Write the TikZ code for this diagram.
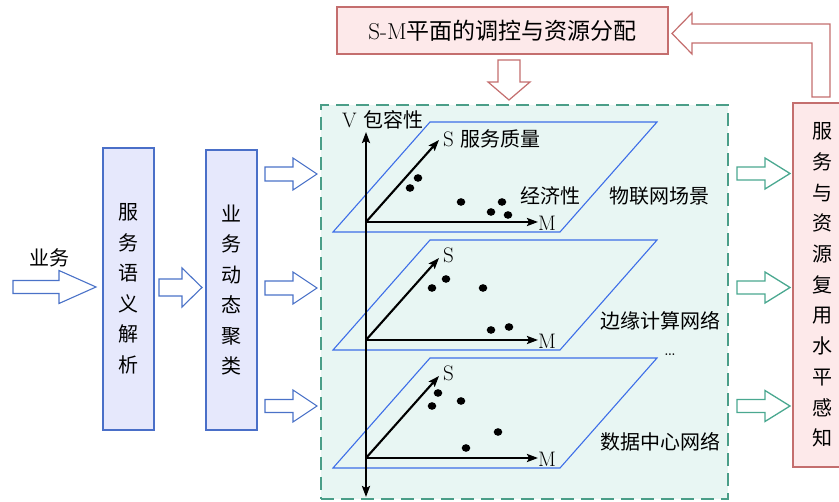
\documentclass[tikz,border=0pt]{standalone}
\usepackage{fontspec}
\newfontfamily\cjk{Noto Sans CJK SC}
\usetikzlibrary{arrows.meta}
\definecolor{boxfill}{HTML}{E6E8FC}
\definecolor{boxblue}{HTML}{4A6FC8}
\definecolor{arrblue}{HTML}{4A72C8}
\definecolor{tealfill}{HTML}{E8F6F3}
\definecolor{tealline}{HTML}{4A9E88}
\definecolor{arrteal}{HTML}{4AA890}
\definecolor{pinkfill}{HTML}{FDE9EA}
\definecolor{pinkline}{HTML}{C46E6E}
\definecolor{planeblue}{HTML}{3D6EE8}
% horizontal block arrow: style, x0, x head base, x tip, y centre, half shaft, half head
\newcommand{\hbarrow}[7]{\draw[#1] (#2,#5-#6) -- (#3,#5-#6) -- (#3,#5-#7) -- (#4,#5) -- (#3,#5+#7) -- (#3,#5+#6) -- (#2,#5+#6) -- cycle;}
\begin{document}
\begin{tikzpicture}[x=1pt,y=-1pt,
  vbox/.style={draw=boxblue, fill=boxfill, line width=1.2pt, inner sep=0pt, align=center,
    font=\cjk\fontsize{20}{30.5}\selectfont},
  pinkbox/.style={draw=pinkline, fill=pinkfill, line width=1.2pt, inner sep=0pt, align=center},
  tealbox/.style={draw=tealline, fill=tealfill, line width=1.4pt, dash pattern=on 13pt off 7pt, inner sep=0pt},
  barrow/.style={draw=arrblue, fill=white, line width=1.1pt},
  tarrow/.style={draw=arrteal, fill=white, line width=1.3pt},
  parrow/.style={draw=pinkline, fill=white, line width=1.2pt},
  plane/.style={draw=planeblue, line width=1.1pt},
  axis/.style={line width=2.1pt, -{Stealth[length=11pt,width=8pt,inset=2pt]}},
  dotm/.style={fill=black},
  lbl/.style={font=\fontsize{21}{24}\selectfont, inner sep=0pt},
  clbl/.style={font=\cjk\fontsize{20}{24}\selectfont, inner sep=0pt}]
\clip (0,0) rectangle (839,502);

% boxes
\node[vbox, minimum width=51, minimum height=282] (parse) at (128.5,289) {服\\务\\语\\义\\解\\析};
\node[vbox, minimum width=51, minimum height=280] (clus) at (231.5,290) {业\\务\\动\\态\\聚\\类};
\node[pinkbox, minimum width=331, minimum height=47, font=\fontsize{23}{27}\selectfont] (ctrl) at (502.5,30.5) {S-M{\cjk 平面的调控与资源分配}};
\node[pinkbox, minimum width=58, minimum height=364, font=\cjk\fontsize{20}{30.7}\selectfont] (perc) at (822,285) {服\\务\\与\\资\\源\\复\\用\\水\\平\\感\\知};
\node[tealbox, minimum width=407, minimum height=394] (scene) at (524.5,302) {};

\node[clbl] (inlbl) at (49,258) {业务};

% blue block arrows
\hbarrow{barrow}{13}{59}{96}{287}{6.5}{16.5}
\hbarrow{barrow}{159}{182}{202}{287.5}{8.5}{19.5}
\hbarrow{barrow}{265}{293}{317}{174}{7}{16}
\hbarrow{barrow}{265}{293}{317}{288}{7}{16}
\hbarrow{barrow}{265}{293}{317}{406}{6.5}{16}

% teal block arrows
\hbarrow{tarrow}{737}{765}{790}{173.5}{6.5}{15.5}
\hbarrow{tarrow}{737}{765}{790}{287.5}{6.5}{15.5}
\hbarrow{tarrow}{737}{765}{790}{406}{6.5}{15.5}

% down arrow from control box
\draw[parrow] (498,60) -- (520,60) -- (520,82) -- (530,82) -- (509,100) -- (488,82) -- (498,82) -- cycle;
% return arrow from perception box
\draw[parrow] (812,97) -- (830,97) -- (830,24) -- (692,24) -- (692,13) -- (672,33.5) -- (692,54) -- (692,43) -- (812,43) -- cycle;

% planes
\foreach \b in {232,350,468}{
  \draw[plane] (333,\b) -- (560,\b) -- (657,\b-110) -- (430,\b-110) -- cycle;
}

% axes
\coordinate (o1) at (366,222);
\coordinate (o2) at (366,340);
\coordinate (o3) at (366,458);
\coordinate (vtop) at (366,132);
\coordinate (vbot) at (366,497);
\draw[axis] (o1) -- (vtop);
\draw[axis] (o1) -- (vbot);
\foreach \o in {o1,o2,o3}{
  \draw[axis] (\o) -- ++(172,0);
  \draw[axis] (\o) -- ++(73,-82);
}

% labels
\node[lbl, anchor=west] (vl) at (342,120) {V {\cjk\fontsize{20}{24}\selectfont 包容性}};
\node[lbl, anchor=west] (s1) at (443,139) {S {\cjk\fontsize{20}{24}\selectfont 服务质量}};
\node[lbl, anchor=west] (s2) at (443,255) {S};
\node[lbl, anchor=west] (s3) at (443,373) {S};
\node[lbl, anchor=west] (m1) at (538,223) {M};
\node[lbl, anchor=west] (m2) at (538,341) {M};
\node[lbl, anchor=west] (m3) at (538,459) {M};
\node[clbl] (econ) at (550,196) {经济性};
\node[clbl] (iot) at (659,196) {物联网场景};
\node[clbl] (edge) at (660,321) {边缘计算网络};
\node[lbl] (dots) at (670,355) {\dots};
\node[clbl] (dc) at (660,442) {数据中心网络};

% dots
\foreach \p in {(418,178),(410,188),(461,202),(502,202),(491,212),(508,215),
                (446,279),(432,288),(483,288),(491,330),(509,327),
                (438,393),(432,406),(461,401),(498,432),(466,448)}{
  \fill[dotm] \p ellipse [x radius=4.3, y radius=3.8];
}
\end{tikzpicture}
\end{document}
